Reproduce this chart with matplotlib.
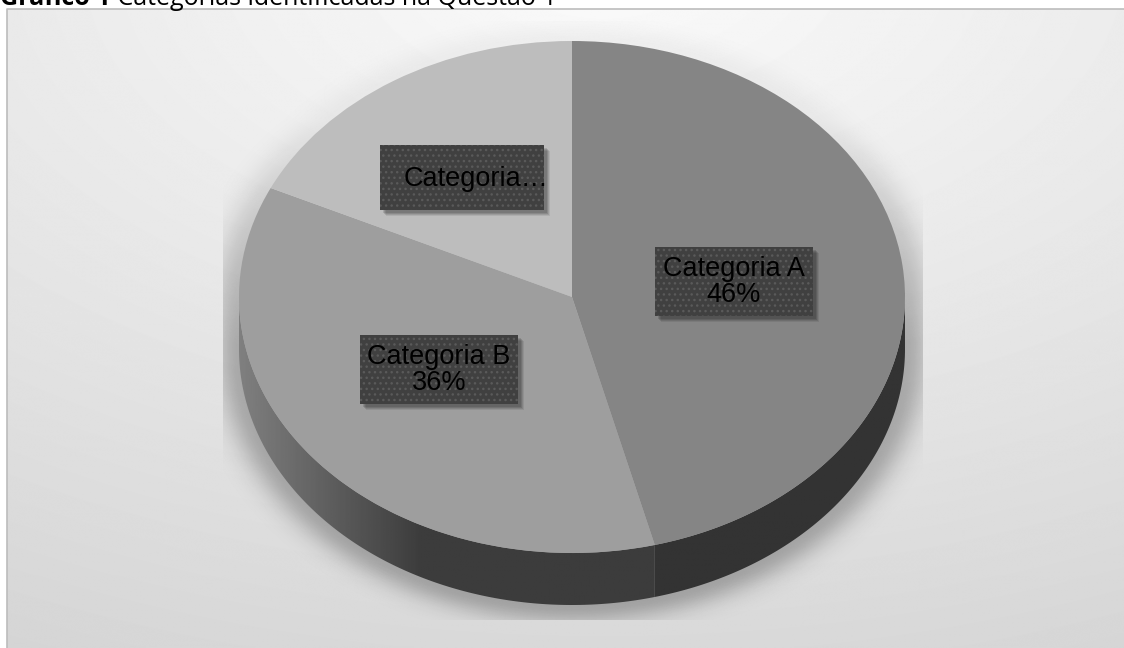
import numpy as np
import matplotlib.pyplot as plt
from matplotlib.patches import Rectangle, Polygon

# data
categories = ["Categoria A", "Categoria B", "Categoria C"]
percentages = [46, 36, 18]
top_colors = ["#858585", "#9e9e9e", "#bdbdbd"]
shown_labels = [f"{c}\n{p}%" for c, p in zip(categories, percentages)]
shown_labels[2] = "Categoria\u2026"  # truncated in the original

title_bold = "Gráfico 1"
title_rest = " Categorias identificadas na Questão 1"

# layout (pixels)
W, H = 1124, 648
CX, CY, RX, RY, DEPTH = 572, 297, 333, 256, 52
label_boxes = [(734, 281.5, 158, 69), (439, 369.5, 158, 69), (462, 177.5, 164, 65)]
label_text_pos = [(734, 282), (439, 370), (476, 179)]


def main():
    fig = plt.figure(figsize=(W / 100, H / 100), dpi=100)
    fig.patch.set_facecolor("white")

    # background with gradient, border and soft pie shadow
    bg = fig.add_axes([0, 0, 1, 1], zorder=0)
    bg.set_xlim(0, W)
    bg.set_ylim(H, 0)
    bg.axis("off")
    yy, xx = np.mgrid[0:H, 0:W]
    d = np.sqrt(((xx - 600) / W) ** 2 + ((yy + 50) / H) ** 2)
    grad = (251 - 32 * d) / 255.0
    bg.imshow(grad, cmap="gray", vmin=0, vmax=1, extent=(7, W, H, 9),
              interpolation="bilinear", zorder=0)
    bg.plot([7, 7, W], [H, 9, 9], color="#bcbcbc", lw=1.2, zorder=1)

    cyy = CY + np.clip(yy - CY, 0, DEPTH)
    r = np.sqrt(((xx - CX) / RX) ** 2 + ((yy - cyy) / RY) ** 2)
    dist = np.clip((r - 1) * 300, 0, None)
    fade = np.clip((yy - 80) / 260, 0.15, 1)
    alpha = 0.26 * fade * np.exp(-(dist / 22.0) ** 2)
    inside = (xx > 222) & (xx < 923) & (yy > 20) & (yy < 620)
    alpha = np.where(inside, alpha, 0)
    shadow = np.zeros((H, W, 4))
    shadow[..., 3] = alpha
    bg.imshow(shadow, extent=(0, W, H, 0), interpolation="bilinear", zorder=2)

    # pie
    depth = DEPTH / RY
    ax = fig.add_axes([(CX - RX) / W, (H - (CY + RY + DEPTH)) / H,
                       2 * RX / W, (2 * RY + DEPTH) / H], zorder=1)
    ax.patch.set_alpha(0)
    ax.pie(percentages, colors=top_colors, startangle=90, counterclock=False,
           wedgeprops=dict(linewidth=0), radius=1)
    ax.set_aspect("auto")
    ax.axis("off")

    # visible side walls
    total = sum(percentages)
    cum = np.cumsum([0] + percentages) / total
    side_grey = lambda x: np.interp(x, [-1, -0.45, 1], [0.50, 0.235, 0.235])
    for i in range(len(percentages)):
        t_lo = 90 - 360 * cum[i + 1]
        t_hi = 90 - 360 * cum[i]
        for k in (-360, 0, 360):
            a, b = max(t_lo + k, 180), min(t_hi + k, 360)
            if b <= a:
                continue
            th = np.radians(np.linspace(a, b, 200))
            xs, ys = np.cos(th), np.sin(th)
            pts = np.vstack([np.column_stack([xs, ys]),
                             np.column_stack([xs[::-1], ys[::-1] - depth])])
            poly = Polygon(pts, closed=True, fc="none", ec="none")
            ax.add_patch(poly)
            gx = np.linspace(-1, 1, 400)
            img = side_grey(gx)[None, :].repeat(2, axis=0)
            if i == 0:
                img = np.full_like(img, 0.2)
            im = ax.imshow(img, cmap="gray", vmin=0, vmax=1, aspect="auto",
                           extent=(-1, 1, -1 - depth, 0.2), zorder=0.5)
            im.set_clip_path(poly)
    ax.set_xlim(-1, 1)
    ax.set_ylim(-1 - depth, 1)

    # data labels
    ov = fig.add_axes([0, 0, 1, 1], zorder=2)
    ov.set_xlim(0, W)
    ov.set_ylim(H, 0)
    ov.axis("off")
    for (bx, by, bw, bh), (tx, ty), txt in zip(label_boxes, label_text_pos, shown_labels):
        for off, al in ((6, 0.08), (5, 0.1), (4, 0.12), (3, 0.12)):
            ov.add_patch(Rectangle((bx - bw / 2 + off, by - bh / 2 + off), bw, bh,
                                   fc="black", ec="none", alpha=al))
        ov.add_patch(Rectangle((bx - bw / 2, by - bh / 2), bw, bh, fc="#404040",
                               ec="#5a5a5a", lw=0, hatch="..."))
        ov.text(tx, ty, txt, ha="center", va="center", fontsize=19.5,
                family="Liberation Sans", color="black", linespacing=1.0)

    # title (cut off at the top of the picture, as in the original)
    t = ov.text(0, 5, title_bold, fontsize=18, fontweight="bold",
                family="Open Sans", va="baseline", ha="left")
    fig.canvas.draw()
    ext = t.get_window_extent()
    ov.text(ext.x1, 5, title_rest, fontsize=18, family="Open Sans",
            va="baseline", ha="left")

    fig.savefig("out.png", dpi=100)


if __name__ == "__main__":
    main()
